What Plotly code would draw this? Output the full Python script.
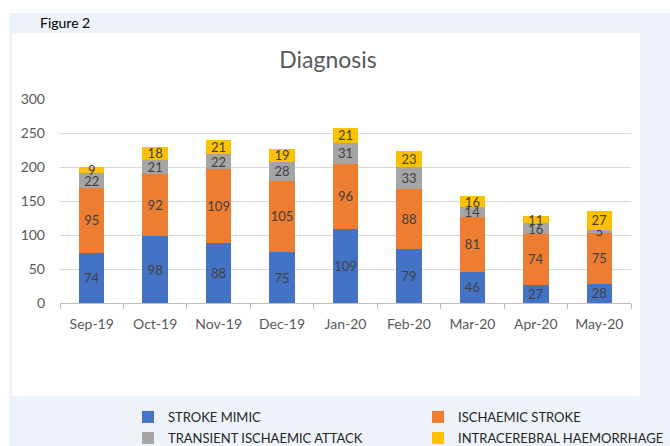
import plotly.graph_objects as go

months = ["Sep-19", "Oct-19", "Nov-19", "Dec-19", "Jan-20", "Feb-20", "Mar-20", "Apr-20", "May-20"]
stroke_mimic = [74, 98, 88, 75, 109, 79, 46, 27, 28]
ischaemic_stroke = [95, 92, 109, 105, 96, 88, 81, 74, 75]
tia = [22, 21, 22, 28, 31, 33, 14, 16, 5]
ich = [9, 18, 21, 19, 21, 23, 16, 11, 27]

W, H = 670, 446
ML, MR, MT, MB = 60, 39, 99, 143
PW = W - ML - MR
PH = H - MT - MB


def px(x):
    return (x - ML) / PW


def py(y):
    return (H - MB - y) / PH


FONT = "Lato"
series = [
    ("STROKE MIMIC", stroke_mimic, "#4472C4", "legend"),
    ("ISCHAEMIC STROKE", ischaemic_stroke, "#ED7D31", "legend2"),
    ("TRANSIENT ISCHAEMIC ATTACK", tia, "#A5A5A5", "legend3"),
    ("INTRACEREBRAL HAEMORRHAGE", ich, "#FFC000", "legend4"),
]

fig = go.Figure()
for name, vals, col, lg in series:
    fig.add_trace(go.Bar(
        x=months, y=vals, name=name, marker=dict(color=col, line=dict(width=0)),
        text=vals, textposition="inside", insidetextanchor="middle", textangle=0,
        textfont=dict(family=FONT, size=13, color="#404040"),
        legend=lg, showlegend=True,
    ))

legend_common = dict(
    orientation="h", bgcolor="rgba(0,0,0,0)", font=dict(family=FONT, size=13, color="#262626"),
    xanchor="left", yanchor="middle", itemwidth=30,
)
text_left = 168 - 40
text_right = 458 - 40
row1, row2 = 417, 438

fig.update_layout(
    width=W, height=H,
    margin=dict(l=ML, r=MR, t=MT, b=MB, autoexpand=False),
    paper_bgcolor="white", plot_bgcolor="rgba(0,0,0,0)",
    barmode="stack", bargap=0.6, showlegend=True,
    uniformtext=dict(minsize=13, mode="show"),
    title=dict(text="Diagnosis", x=328 / W, xref="container", xanchor="center",
               y=1 - 60 / H, yref="container", yanchor="middle",
               font=dict(family=FONT, size=23, color="#595959")),
    xaxis=dict(showline=True, linecolor="#BFBFBF", linewidth=1, ticks="outside",
               tickson="boundaries", ticklen=5, tickcolor="#BFBFBF", ticklabelstandoff=8,
               tickfont=dict(family=FONT, size=14, color="#595959"), showgrid=False),
    yaxis=dict(range=[0, 300], dtick=50, showgrid=True, gridcolor="#D9D9D9", gridwidth=1,
               zeroline=False, showline=False, ticks="", ticklabelstandoff=14,
               tickfont=dict(family=FONT, size=14, color="#595959")),
    legend=dict(x=px(text_left), y=py(row1), **legend_common),
    legend2=dict(x=px(text_right), y=py(row1), **legend_common),
    legend3=dict(x=px(text_left), y=py(row2), **legend_common),
    legend4=dict(x=px(text_right), y=py(row2), **legend_common),
    shapes=[
        dict(type="rect", xref="paper", yref="paper", x0=px(9), x1=px(670), y0=py(13), y1=py(446),
             fillcolor="#EEF2F9", line=dict(width=0), layer="below"),
        dict(type="rect", xref="paper", yref="paper", x0=px(12), x1=px(640), y0=py(33), y1=py(396),
             fillcolor="#FFFFFF", line=dict(width=0), layer="below"),
    ],
    annotations=[
        dict(text="Figure 2", xref="paper", yref="paper", x=px(38), y=py(22), xanchor="left",
             yanchor="middle", showarrow=False, font=dict(family=FONT, size=14, color="#000000")),
    ],
)

fig.write_html("out.html", config={"displayModeBar": False},
               post_script="document.body.style.margin='0px';document.body.style.overflow='hidden';")
